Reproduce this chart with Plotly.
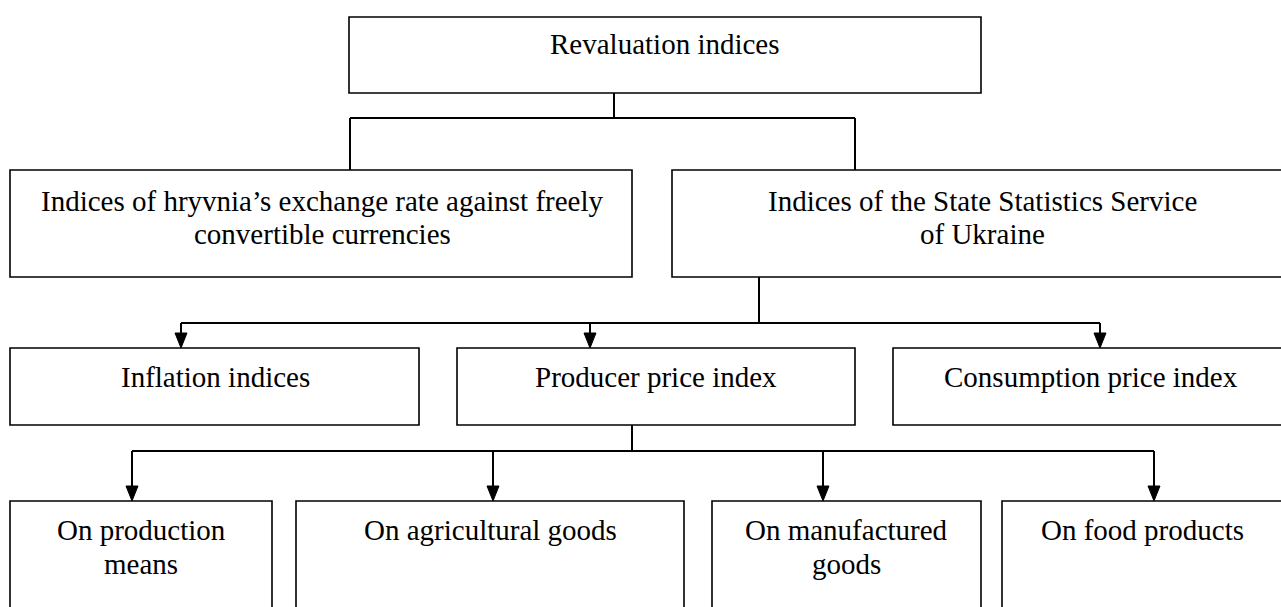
import plotly.graph_objects as go

W, H = 1281, 607

# ---- texts of the boxes (one list entry per line) ----
root_label = ["Revaluation indices"]
level2_labels = [
    ["Indices of hryvnia\u2019s exchange rate against freely", "convertible currencies"],
    ["Indices of the State Statistics Service", "of Ukraine"],
]
level3_labels = [["Inflation indices"], ["Producer price index"], ["Consumption price index"]]
level4_labels = [["On production", "means"], ["On agricultural goods"],
                 ["On manufactured", "goods"], ["On food products"]]

# ---- geometry (pixels, y downward) ----
root_box = dict(x0=349, x1=981, y0=17, y1=93, cx=[665], ty=[44])
level2_boxes = [
    dict(x0=10, x1=632, y0=170, y1=277, cx=[322, 322], ty=[201, 234]),
    dict(x0=672, x1=1300, y0=170, y1=277, cx=[982, 982], ty=[201, 234]),
]
level3_boxes = [
    dict(x0=10, x1=419, y0=348, y1=425, cx=[215], ty=[377]),
    dict(x0=457, x1=855, y0=348, y1=425, cx=[656], ty=[377]),
    dict(x0=893, x1=1300, y0=348, y1=425, cx=[1091], ty=[377]),
]
level4_boxes = [
    dict(x0=10, x1=272, y0=501, y1=640, cx=[141, 141], ty=[530, 564]),
    dict(x0=296, x1=684, y0=501, y1=640, cx=[490], ty=[530]),
    dict(x0=712, x1=981, y0=501, y1=640, cx=[846, 846], ty=[530, 564]),
    dict(x0=1002, x1=1300, y0=501, y1=640, cx=[1142], ty=[530]),
]

FONT = dict(family="Liberation Serif, Times New Roman, serif", size=29, color="black")
BOX_LW = 1.6
CON_LW = 2.0

shapes = []
annotations = []


def add_box(box, lines):
    shapes.append(dict(type="rect", xref="x", yref="y",
                       x0=box["x0"], x1=box["x1"], y0=box["y0"], y1=box["y1"],
                       line=dict(color="black", width=BOX_LW), fillcolor="white", layer="below"))
    for i, t in enumerate(lines):
        annotations.append(dict(x=box["cx"][i], y=box["ty"][i], xref="x", yref="y",
                                text=t, showarrow=False, font=FONT,
                                xanchor="center", yanchor="middle"))


def add_line(x0, y0, x1, y1):
    shapes.append(dict(type="line", xref="x", yref="y", x0=x0, y0=y0, x1=x1, y1=y1,
                       line=dict(color="black", width=CON_LW)))


def add_arrow(x, y_from, y_to, hw=6, hl=15):
    add_line(x, y_from, x, y_to - hl + 2)
    shapes.append(dict(type="path", xref="x", yref="y",
                       path=f"M {x-hw},{y_to-hl} L {x+hw},{y_to-hl} L {x},{y_to} Z",
                       fillcolor="black", line=dict(color="black", width=1)))


add_box(root_box, root_label)
for b, l in zip(level2_boxes, level2_labels):
    add_box(b, l)
for b, l in zip(level3_boxes, level3_labels):
    add_box(b, l)
for b, l in zip(level4_boxes, level4_labels):
    add_box(b, l)

# root -> level 2 (plain lines)
add_line(614, root_box["y1"], 614, 118)
add_line(350, 118, 855, 118)
add_line(350, 118, 350, 170)
add_line(855, 118, 855, 170)

# State statistics -> level 3 (arrows)
add_line(759, 277, 759, 323)
l3_arrow_x = [181, 590, 1100]
add_line(min(l3_arrow_x), 323, max(l3_arrow_x), 323)
for x in l3_arrow_x:
    add_arrow(x, 323, 348)

# Producer price index -> level 4 (arrows)
add_line(632, 425, 632, 451)
l4_arrow_x = [132, 493, 823, 1154]
add_line(min(l4_arrow_x), 451, max(l4_arrow_x), 451)
for x in l4_arrow_x:
    add_arrow(x, 451, 501)

fig = go.Figure()
fig.add_trace(go.Scatter(x=[0, W], y=[0, H], mode="markers",
                         marker=dict(opacity=0), hoverinfo="skip", showlegend=False))
fig.update_layout(
    width=W, height=H, margin=dict(l=0, r=0, t=0, b=0),
    paper_bgcolor="white", plot_bgcolor="white",
    xaxis=dict(range=[0, W], visible=False, fixedrange=True),
    yaxis=dict(range=[H, 0], visible=False, fixedrange=True),
    shapes=shapes, annotations=annotations, showlegend=False,
)
fig.write_html("out.html", config={"displayModeBar": False},
               post_script="document.body.style.margin='0';document.body.style.overflow='hidden';")
